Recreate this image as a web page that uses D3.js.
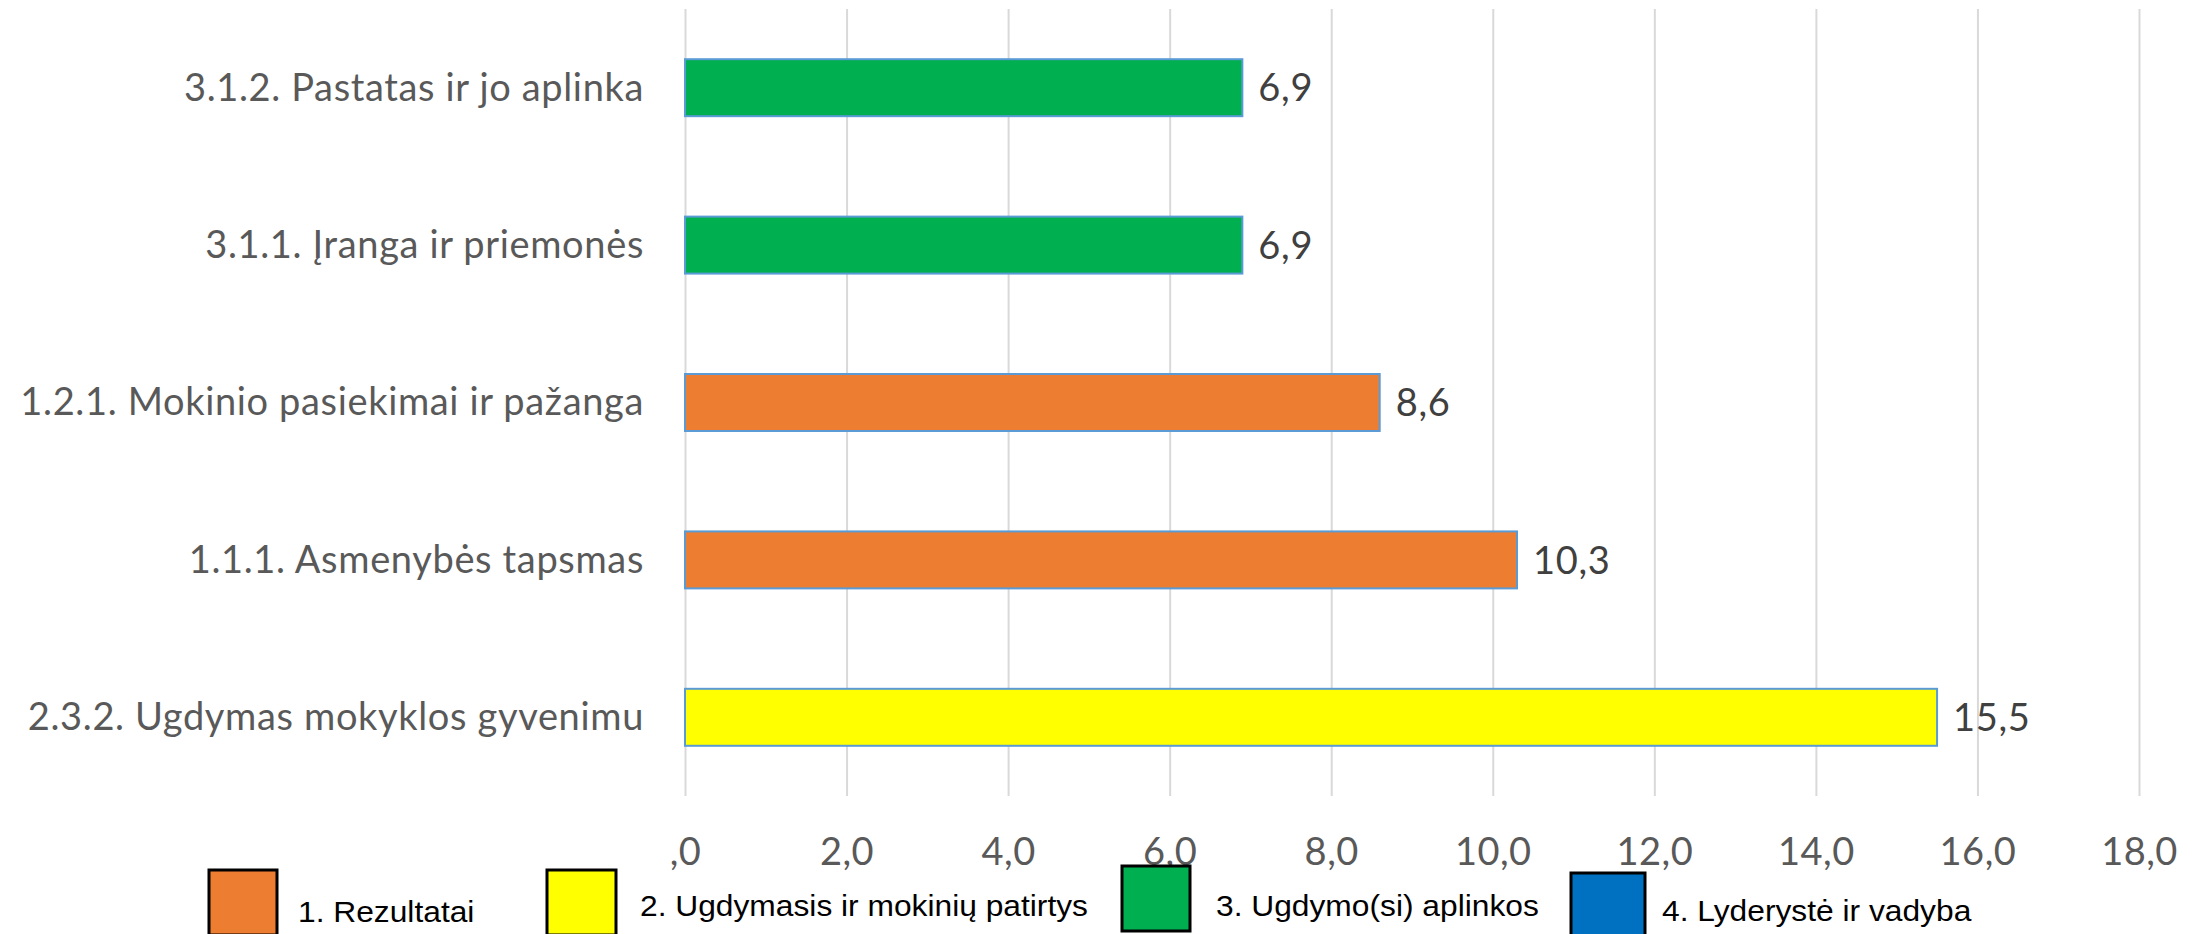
<!DOCTYPE html>
<html>
<head>
<meta charset="utf-8">
<script src="https://cdn.jsdelivr.net/npm/d3@7"></script>
<style>
  html, body { margin: 0; padding: 0; background: #fff; }
  svg { display: block; }
</style>
</head>
<body>
<svg id="chart" width="2203" height="934"></svg>
<script>
// ---- data ----
const categories = [
  "3.1.2. Pastatas ir jo aplinka",
  "3.1.1. Įranga ir priemonės",
  "1.2.1. Mokinio pasiekimai ir pažanga",
  "1.1.1. Asmenybės tapsmas",
  "2.3.2. Ugdymas mokyklos gyvenimu"
];
const values = [6.9, 6.9, 8.6, 10.3, 15.5];
const valueLabels = ["6,9", "6,9", "8,6", "10,3", "15,5"];
const groupOf = ["3", "3", "1", "1", "2"];
const groups = ["1", "2", "3", "4"];
const groupNames = [
  "1. Rezultatai",
  "2. Ugdymasis ir mokinių patirtys",
  "3. Ugdymo(si) aplinkos",
  "4. Lyderystė ir vadyba"
];
const tickValues = [0, 2, 4, 6, 8, 10, 12, 14, 16, 18];
const tickLabels = [",0", "2,0", "4,0", "6,0", "8,0", "10,0", "12,0", "14,0", "16,0", "18,0"];

// ---- styles / layout ----
const groupColors = { "1": "#ED7D31", "2": "#FFFF00", "3": "#00B050", "4": "#0070C0" };
const margin = { left: 685, right: 64, top: 9, bottom: 138 };
const W = 2203, H = 934;
const plotW = W - margin.left - margin.right;
const plotH = H - margin.top - margin.bottom;
const labelFont = "Lato, 'Open Sans', sans-serif";
const legendFont = "'Liberation Sans', Arial, sans-serif";

const svg = d3.select("#chart");
const g = svg.append("g").attr("transform", `translate(${margin.left},${margin.top})`);

const x = d3.scaleLinear().domain([0, 18]).range([0, plotW]);
const y = d3.scaleBand().domain(categories).range([0, plotH]).paddingInner(0.638).paddingOuter(0.319);

// gridlines
g.append("g")
  .attr("transform", `translate(0,${plotH})`)
  .call(d3.axisBottom(x).tickValues(tickValues).tickSize(-plotH).tickFormat(""))
  .call(s => s.select(".domain").remove())
  .call(s => s.selectAll(".tick line").attr("stroke", "#d9d9d9").attr("stroke-width", 2));

// x tick labels
g.append("g")
  .attr("transform", `translate(0,${plotH})`)
  .call(d3.axisBottom(x).tickValues(tickValues).tickSize(0).tickPadding(69)
        .tickFormat((d, i) => tickLabels[i]))
  .call(s => s.select(".domain").remove())
  .call(s => s.selectAll(".tick text")
      .attr("dy", 0)
      .attr("font-family", labelFont)
      .attr("font-size", 38)
      .attr("letter-spacing", "0.5px")
      .attr("fill", "#595959"));

// y category labels
g.append("g")
  .call(d3.axisLeft(y).tickSize(0).tickPadding(41))
  .call(s => s.select(".domain").remove())
  .call(s => s.selectAll(".tick text")
      .attr("dy", "0.34em")
      .attr("font-family", labelFont)
      .attr("font-size", 38)
      .attr("letter-spacing", "0.65px")
      .attr("fill", "#595959"));

// bars
g.selectAll("rect.bar")
  .data(categories)
  .join("rect")
  .attr("class", "bar")
  .attr("x", x(0))
  .attr("y", d => y(d))
  .attr("width", (d, i) => x(values[i]) - x(0))
  .attr("height", y.bandwidth())
  .attr("fill", (d, i) => groupColors[groupOf[i]])
  .attr("stroke", "#5B9BD5")
  .attr("stroke-width", 2);

// value labels
g.selectAll("text.val")
  .data(categories)
  .join("text")
  .attr("class", "val")
  .attr("x", (d, i) => x(values[i]) + 16)
  .attr("y", d => y(d) + y.bandwidth() / 2)
  .attr("dy", "0.36em")
  .attr("font-family", labelFont)
  .attr("font-size", 38)
  .attr("letter-spacing", "0.7px")
  .attr("fill", "#404040")
  .text((d, i) => valueLabels[i]);

// legend (hand-placed entries, as in the original)
const legendLayout = [
  { bx: 209, by: 870, bw: 68, tx: 298, ty: 922 },
  { bx: 547, by: 870, bw: 69, tx: 640, ty: 916 },
  { bx: 1122, by: 866, bw: 68, tx: 1216, ty: 916 },
  { bx: 1571, by: 873, bw: 74, tx: 1662, ty: 921 }
];
const legend = svg.append("g");
groups.forEach((gr, i) => {
  const L = legendLayout[i];
  legend.append("rect")
    .attr("x", L.bx).attr("y", L.by)
    .attr("width", L.bw).attr("height", 65)
    .attr("fill", groupColors[gr])
    .attr("stroke", "#000").attr("stroke-width", 3);
  legend.append("text")
    .attr("transform", `translate(${L.tx},${L.ty}) scale(1.095,1)`)
    .attr("font-family", legendFont)
    .attr("font-size", 29)
    .attr("fill", "#000")
    .text(groupNames[i]);
});
</script>
</body>
</html>
